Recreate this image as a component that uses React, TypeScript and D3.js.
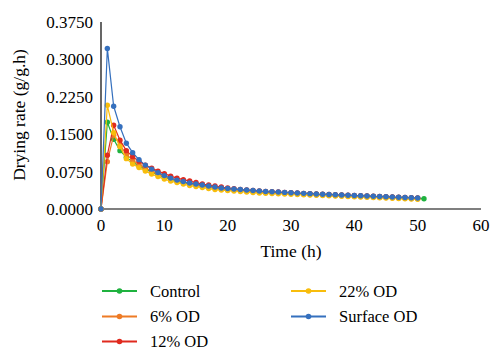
import React from "react";
import * as d3 from "d3";

// Hourly drying rate (g/g.h) for each pretreatment
const hoursControl = d3.range(0, 52);
const hoursOthers = d3.range(0, 51);

const control = [0, 0.174, 0.140, 0.117, 0.104, 0.094, 0.086, 0.080, 0.074, 0.069, 0.064, 0.060, 0.056, 0.053, 0.050, 0.048, 0.046, 0.044, 0.042, 0.041, 0.040, 0.039, 0.038, 0.037, 0.036, 0.035, 0.034, 0.0335, 0.033, 0.0325, 0.032, 0.0314, 0.0308, 0.0302, 0.0296, 0.029, 0.0285, 0.028, 0.0275, 0.027, 0.0265, 0.026, 0.0255, 0.025, 0.0245, 0.024, 0.0235, 0.023, 0.0225, 0.022, 0.0215, 0.0205];
const od6 = [0, 0.095, 0.148, 0.128, 0.110, 0.098, 0.089, 0.082, 0.076, 0.070, 0.065, 0.061, 0.057, 0.054, 0.051, 0.048, 0.046, 0.044, 0.042, 0.040, 0.039, 0.038, 0.037, 0.036, 0.035, 0.034, 0.033, 0.0325, 0.032, 0.0315, 0.031, 0.0304, 0.0298, 0.0292, 0.0286, 0.028, 0.0275, 0.027, 0.0265, 0.026, 0.0255, 0.025, 0.0245, 0.024, 0.0235, 0.023, 0.0225, 0.022, 0.0215, 0.021, 0.0205];
const od12 = [0, 0.108, 0.168, 0.138, 0.117, 0.105, 0.096, 0.088, 0.082, 0.076, 0.071, 0.066, 0.062, 0.059, 0.056, 0.053, 0.050, 0.048, 0.046, 0.044, 0.042, 0.0405, 0.039, 0.038, 0.037, 0.036, 0.035, 0.0345, 0.034, 0.0333, 0.0326, 0.032, 0.0314, 0.0308, 0.030, 0.0295, 0.029, 0.0285, 0.028, 0.0275, 0.027, 0.0265, 0.026, 0.0255, 0.025, 0.0245, 0.024, 0.0235, 0.023, 0.0225, 0.022];
const od22 = [0, 0.208, 0.153, 0.125, 0.101, 0.090, 0.083, 0.076, 0.070, 0.065, 0.060, 0.056, 0.053, 0.050, 0.047, 0.045, 0.043, 0.041, 0.039, 0.038, 0.037, 0.036, 0.035, 0.034, 0.033, 0.032, 0.0315, 0.031, 0.0305, 0.030, 0.0295, 0.029, 0.0285, 0.028, 0.0275, 0.027, 0.0265, 0.026, 0.0255, 0.025, 0.0245, 0.024, 0.0235, 0.023, 0.0225, 0.022, 0.0215, 0.021, 0.0205, 0.020, 0.0195];
const surfaceOd = [0, 0.322, 0.206, 0.165, 0.132, 0.113, 0.099, 0.088, 0.080, 0.073, 0.067, 0.062, 0.058, 0.055, 0.052, 0.050, 0.048, 0.046, 0.044, 0.042, 0.041, 0.040, 0.039, 0.038, 0.037, 0.036, 0.035, 0.0345, 0.034, 0.0333, 0.0326, 0.032, 0.0314, 0.0308, 0.030, 0.0295, 0.029, 0.0285, 0.028, 0.0275, 0.027, 0.0265, 0.026, 0.0255, 0.025, 0.0245, 0.024, 0.0235, 0.023, 0.0225, 0.022];

const xTicks = [0, 10, 20, 30, 40, 50, 60];
const yTicks = [0, 0.075, 0.15, 0.225, 0.3, 0.375];

const series = [
  { name: "Control", color: "#1fb23f", x: hoursControl, y: control },
  { name: "6% OD", color: "#ee7b25", x: hoursOthers, y: od6 },
  { name: "12% OD", color: "#e02a1e", x: hoursOthers, y: od12 },
  { name: "22% OD", color: "#f8bd0c", x: hoursOthers, y: od22 },
  { name: "Surface OD", color: "#3570be", x: hoursOthers, y: surfaceOd },
];

const FONT = "'Liberation Serif', 'Times New Roman', serif";

export default function App() {
  const W = 491;
  const H = 351;
  const x = d3.scaleLinear().domain([0, 60]).range([101, 481]);
  const y = d3.scaleLinear().domain([0, 0.375]).range([209, 22]);
  const line = d3
    .line<[number, number]>()
    .x((d) => x(d[0]))
    .y((d) => y(d[1]));

  const legendPos = [
    { lx: 102, ly: 291 },
    { lx: 102, ly: 316.5 },
    { lx: 102, ly: 341.5 },
    { lx: 291, ly: 291 },
    { lx: 291, ly: 316.5 },
  ];

  return (
    <svg
      width={W}
      height={H}
      style={{ position: "absolute", left: 0, top: 0, background: "#fff", fontFamily: FONT }}
    >
      {/* axes */}
      <line x1={x(0)} x2={x(60)} y1={y(0)} y2={y(0)} stroke="#000" strokeWidth={1.2} />
      <line x1={x(0)} x2={x(0)} y1={y(0)} y2={y(0.375)} stroke="#000" strokeWidth={1.2} />
      {yTicks.map((t) => (
        <text key={t} x={93} y={y(t)} dy="0.35em" textAnchor="end" fontSize={17}>
          {d3.format(".4f")(t)}
        </text>
      ))}
      {xTicks.map((t) => (
        <text key={t} x={x(t)} y={231} textAnchor="middle" fontSize={17}>
          {t}
        </text>
      ))}
      <text x={291} y={257} textAnchor="middle" fontSize={17.5}>
        Time (h)
      </text>
      <text
        transform="translate(25,115) rotate(-90)"
        textAnchor="middle"
        fontSize={17.5}
      >
        Drying rate (g/g.h)
      </text>

      {/* series */}
      {series.map((s) => {
        const pts = s.x.map((h, i) => [h, s.y[i]] as [number, number]);
        return (
          <g key={s.name}>
            <path d={line(pts) ?? ""} fill="none" stroke={s.color} strokeWidth={1.2} />
            {pts.map((p, i) => (
              <circle key={i} cx={x(p[0])} cy={y(p[1])} r={2.7} fill={s.color} />
            ))}
          </g>
        );
      })}

      {/* legend */}
      {series.map((s, i) => {
        const { lx, ly } = legendPos[i];
        return (
          <g key={s.name}>
            <line x1={lx} x2={lx + 35} y1={ly} y2={ly} stroke={s.color} strokeWidth={2} />
            <circle cx={lx + 17.5} cy={ly} r={2.8} fill={s.color} />
            <text x={lx + 48} y={ly} dy="0.35em" fontSize={16.5}>
              {s.name}
            </text>
          </g>
        );
      })}
    </svg>
  );
}
